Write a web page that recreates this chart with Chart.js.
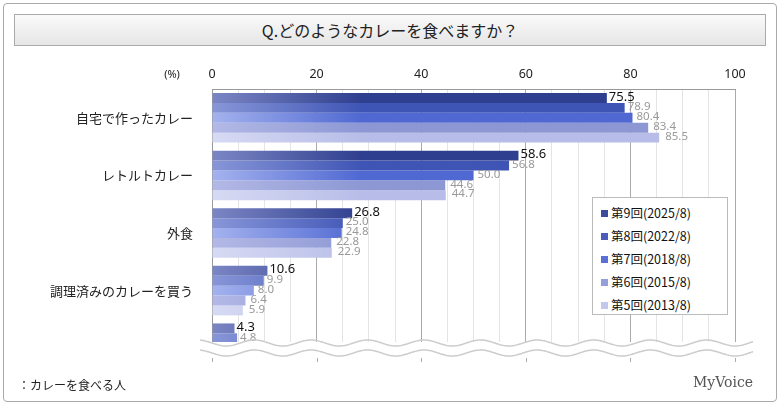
<!DOCTYPE html>
<html><head><meta charset="utf-8">
<script src="https://cdn.jsdelivr.net/npm/chart.js@4/dist/chart.umd.min.js"></script>
<style>
body{margin:0;background:#fff;font-family:"Noto Sans CJK JP","Noto Sans",sans-serif}
#wrap{position:relative;width:780px;height:405px}
#frame{position:absolute;left:3px;top:3px;width:772px;height:397px;border:1px solid #aaa;border-radius:4px}
#title{position:absolute;left:14px;top:14px;width:750px;height:30px;border:1px solid #aaa;background:linear-gradient(#fafafa,#e6e6e6);text-align:center;line-height:30px;font-size:16px;color:#222}
#legend{position:absolute;left:592px;top:197px;width:136px;height:118px;border:1px solid #bbb;background:#fff;font-size:12.5px;color:#111;padding:3px 0 0 8px;box-sizing:border-box}
#legend div{height:23px;line-height:23px}
#legend span{display:inline-block;width:7px;height:7px;margin-right:3px;vertical-align:1px}
#foot{position:absolute;left:18px;top:376px;font-size:12px;color:#222}
#logo{position:absolute;left:693px;top:374px;font-size:14px;color:#555;font-family:"DejaVu Serif",serif}
canvas{position:absolute;left:0;top:0}
</style></head><body>
<div id="wrap">
<div id="frame"></div>
<div id="title">Q.どのようなカレーを食べますか？</div>
<canvas id="c" width="780" height="405"></canvas>
<div id="legend"></div>
<div id="foot">：カレーを食べる人</div>
<div id="logo">MyVoice</div>
</div>
<script>
const categories = ['自宅で作ったカレー', 'レトルトカレー', '外食', '調理済みのカレーを買う', '']
const seriesNames = ['第9回(2025/8)', '第8回(2022/8)', '第7回(2018/8)', '第6回(2015/8)', '第5回(2013/8)']
const r9 = [75.5, 58.6, 26.8, 10.6, 4.3]
const r8 = [78.9, 56.8, 25.0, 9.9, 4.8]
const r7 = [80.4, 50.0, 24.8, 8.0, null]
const r6 = [83.4, 44.6, 22.8, 6.4, null]
const r5 = [85.5, 44.7, 22.9, 5.9, null]
const xTicks = [0, 20, 40, 60, 80, 100]

const colors = [['#7b86c4', '#2f3f8f'], ['#8896d8', '#3f55b5'], ['#a4b2ee', '#4f68d2'], ['#b3b9e6', '#8c97d4'], ['#d7daf3', '#b7bde8']]
const legendColors = ['#3c4c9c', '#4a5dbd', '#5a70d6', '#949ed8', '#c2c7ec']

document.getElementById('legend').innerHTML = seriesNames.map((n, i) =>
  `<div><span style="background:${legendColors[i]}"></span>${n}</div>`).join('')

function grad(i) {
  return ctx => {
    const a = ctx.chart.chartArea
    if (!a) return colors[i][1]
    const g = ctx.chart.ctx.createLinearGradient(a.left, 0, a.left + 300, 0)
    g.addColorStop(0, colors[i][0])
    g.addColorStop(0.5, colors[i][1])
    g.addColorStop(1, colors[i][1])
    return g
  }
}

const WAVE = 348

const overlay = {
  id: 'overlay',
  afterDatasetsDraw(chart) {
    const c = chart.ctx, x = chart.scales.x, y = chart.scales.y, a = chart.chartArea
    // value labels
    chart.data.datasets.forEach((ds, di) => {
      chart.getDatasetMeta(di).data.forEach((bar, i) => {
        const v = ds.data[i]
        if (v == null) return
        c.save()
        c.font = di === 0 ? '13px "Noto Sans"' : '11.5px "Noto Sans"'
        c.fillStyle = di === 0 ? '#111' : '#999'
        c.textBaseline = 'middle'
        c.fillText(v.toFixed(1), bar.x + 2 + di, bar.y - 1)
        c.restore()
      })
    })
    // wave cut
    c.save()
    c.fillStyle = '#fff'
    c.fillRect(a.left - 12, WAVE - 6, a.right - a.left + 30, a.bottom - WAVE + 10)
    c.strokeStyle = '#ccc'
    c.lineWidth = 1.5
    for (const off of [-5, 5]) {
      c.beginPath()
      for (let px = a.left - 12; px <= a.right + 18; px++) {
        const py = WAVE + off + 3 * Math.sin((px - a.left) / 9)
        px === a.left - 12 ? c.moveTo(px, py) : c.lineTo(px, py)
      }
      c.stroke()
    }
    c.strokeStyle = '#aaa'
    c.lineWidth = 1
    xTicks.forEach(t => {
      const px = Math.round(x.getPixelForValue(t)) + 0.5
      c.beginPath(); c.moveTo(px, WAVE + 10); c.lineTo(px, WAVE + 14); c.stroke()
    })
    // axis labels
    c.fillStyle = '#222'
    c.font = '12.5px "Noto Sans"'
    c.textAlign = 'center'
    xTicks.forEach(t => c.fillText(String(t), x.getPixelForValue(t), 78))
    c.font = '11px "Noto Sans"'
    c.fillText('(%)', 172, 78)
    c.textAlign = 'right'
    c.textBaseline = 'middle'
    c.font = '13px "Noto Sans CJK JP"'
    categories.forEach((cat, i) => c.fillText(cat, 193, y.getPixelForValue(i)))
    c.restore()
  }
}

new Chart(document.getElementById('c'), {
  type: 'bar',
  data: {
    labels: categories,
    datasets: [r9, r8, r7, r6, r5].map((d, i) => ({
      label: seriesNames[i], data: d, backgroundColor: grad(i),
      categoryPercentage: 0.86, barPercentage: 1.0
    }))
  },
  options: {
    indexAxis: 'y', responsive: false, animation: false,
    layout: { padding: { left: 204, top: 89, right: 45, bottom: 28 } },
    plugins: { legend: { display: false }, tooltip: { enabled: false } },
    scales: {
      x: {
        position: 'top', min: 0, max: 100,
        ticks: { display: false, stepSize: 5 },
        grid: { color: c => c.tick.value % 20 === 0 ? '#aaa' : '#e4e4e4', drawTicks: false },
        border: { color: '#999' }
      },
      y: {
        ticks: { display: false },
        grid: { display: false },
        border: { color: '#999' }
      }
    }
  },
  plugins: [overlay]
})
</script>
</body></html>
